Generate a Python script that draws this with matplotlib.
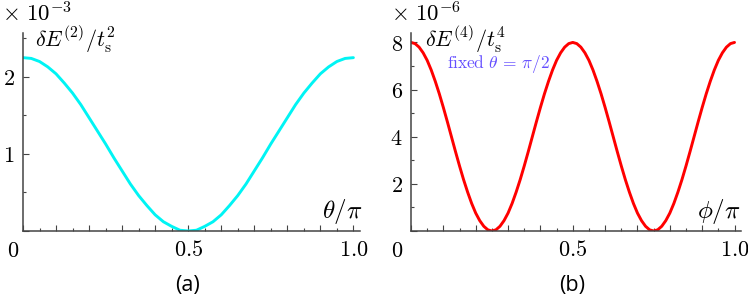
import matplotlib
matplotlib.use("Agg")
import matplotlib.pyplot as plt
from matplotlib.ticker import MultipleLocator, FuncFormatter

plt.rcParams['mathtext.fontset'] = 'cm'
plt.rcParams['font.family'] = ['DejaVu Serif']

# panel (a): dE2 / ts^2 (x 1e-3) vs theta/pi
theta = [i * 0.025 for i in range(41)]
dE2 = [2.25, 2.24, 2.20, 2.13, 2.04, 1.92, 1.79, 1.64, 1.47, 1.30,
       1.13, 0.95, 0.78, 0.61, 0.46, 0.33, 0.21, 0.12, 0.06, 0.01,
       0.00,
       0.01, 0.06, 0.12, 0.21, 0.33, 0.46, 0.61, 0.78, 0.95, 1.13,
       1.30, 1.47, 1.64, 1.79, 1.92, 2.04, 2.13, 2.20, 2.24, 2.25]

# panel (b): dE4 / ts^4 (x 1e-6) vs phi/pi, fixed theta = pi/2
phi = [i * 0.0125 for i in range(81)]
dE4 = [8.00, 7.95, 7.80, 7.56, 7.24, 6.83, 6.35, 5.82, 5.24, 4.63,
       4.00, 3.37, 2.76, 2.18, 1.65, 1.17, 0.76, 0.44, 0.20, 0.05,
       0.00, 0.05, 0.20, 0.44, 0.76, 1.17, 1.65, 2.18, 2.76, 3.37,
       4.00, 4.63, 5.24, 5.82, 6.35, 6.83, 7.24, 7.56, 7.80, 7.95,
       8.00, 7.95, 7.80, 7.56, 7.24, 6.83, 6.35, 5.82, 5.24, 4.63,
       4.00, 3.37, 2.76, 2.18, 1.65, 1.17, 0.76, 0.44, 0.20, 0.05,
       0.00, 0.05, 0.20, 0.44, 0.76, 1.17, 1.65, 2.18, 2.76, 3.37,
       4.00, 4.63, 5.24, 5.82, 6.35, 6.83, 7.24, 7.56, 7.80, 7.95,
       8.00]

W, H = 748, 300
fig = plt.figure(figsize=(W / 100, H / 100), dpi=100)

def px(x0, y0, x1, y1):
    return [x0 / W, 1 - y1 / H, (x1 - x0) / W, (y1 - y0) / H]

axa = fig.add_axes(px(23, 33, 360, 231))
axb = fig.add_axes(px(411, 33, 741, 231))

axc = '#444444'

def style(ax, ymaj, ymin):
    for s in ['top', 'right']:
        ax.spines[s].set_visible(False)
    for s in ['left', 'bottom']:
        ax.spines[s].set_color(axc)
        ax.spines[s].set_linewidth(1.1)
    ax.xaxis.set_major_locator(MultipleLocator(0.1))
    ax.xaxis.set_minor_locator(MultipleLocator(0.05))
    ax.yaxis.set_major_locator(MultipleLocator(ymaj))
    ax.yaxis.set_minor_locator(MultipleLocator(ymin))
    ax.tick_params(which='both', direction='in', color=axc, width=0.8,
                   labelsize=16, pad=6)
    ax.tick_params(which='major', length=4)
    ax.tick_params(which='minor', length=2.5)
    ax.xaxis.set_major_formatter(FuncFormatter(
        lambda v, p: '$%.1f$' % v if abs(v - 0.5) < 1e-6 or abs(v - 1.0) < 1e-6 else ''))
    ax.yaxis.set_major_formatter(FuncFormatter(
        lambda v, p: '$%d$' % round(v) if v > 1e-6 else ''))

axa.plot(theta, dE2, color='#00f4f4', lw=2.1, solid_capstyle='round')
axa.set_xlim(0, 1.02)
axa.set_ylim(0, 2.57)
style(axa, 1, 0.5)

axb.plot(phi, dE4, color='#ff0000', lw=2.1, solid_capstyle='round')
axb.set_xlim(0, 1.02)
axb.set_ylim(0, 8.4)
style(axb, 2, 1)

# origin labels, axis labels and multipliers
fig.text(13 / W, 1 - 251 / H, '$0$', fontsize=16, ha='center', va='center')
fig.text(397 / W, 1 - 251 / H, '$0$', fontsize=16, ha='center', va='center')

fig.text(2 / W, 1 - 14 / H, r'$\times\ 10^{-3}$', fontsize=16.5, ha='left', va='center')
fig.text(391 / W, 1 - 14 / H, r'$\times\ 10^{-6}$', fontsize=16.5, ha='left', va='center')
fig.text(35 / W, 1 - 40 / H, r'$\delta E^{(2)}/t_{\mathrm{s}}^{2}$', fontsize=16,
         ha='left', va='center')
fig.text(425 / W, 1 - 40 / H, r'$\delta E^{(4)}/t_{\mathrm{s}}^{4}$', fontsize=16,
         ha='left', va='center')
fig.text(362 / W, 1 - 211 / H, r'$\theta/\pi$', fontsize=18, ha='right', va='center')
fig.text(741 / W, 1 - 211 / H, r'$\phi/\pi$', fontsize=18, ha='right', va='center')
fig.text(447 / W, 1 - 64 / H, r'$\mathrm{fixed}\ \theta\,=\,\pi/2$', fontsize=12.5,
         color='#6650ff', ha='left', va='center')
fig.text(188 / W, 1 - 285 / H, '(a)', fontsize=15.5, ha='center', va='center',
         family='Open Sans')
fig.text(572 / W, 1 - 285 / H, '(b)', fontsize=15.5, ha='center', va='center',
         family='Open Sans')

fig.savefig('out.png', dpi=100)
